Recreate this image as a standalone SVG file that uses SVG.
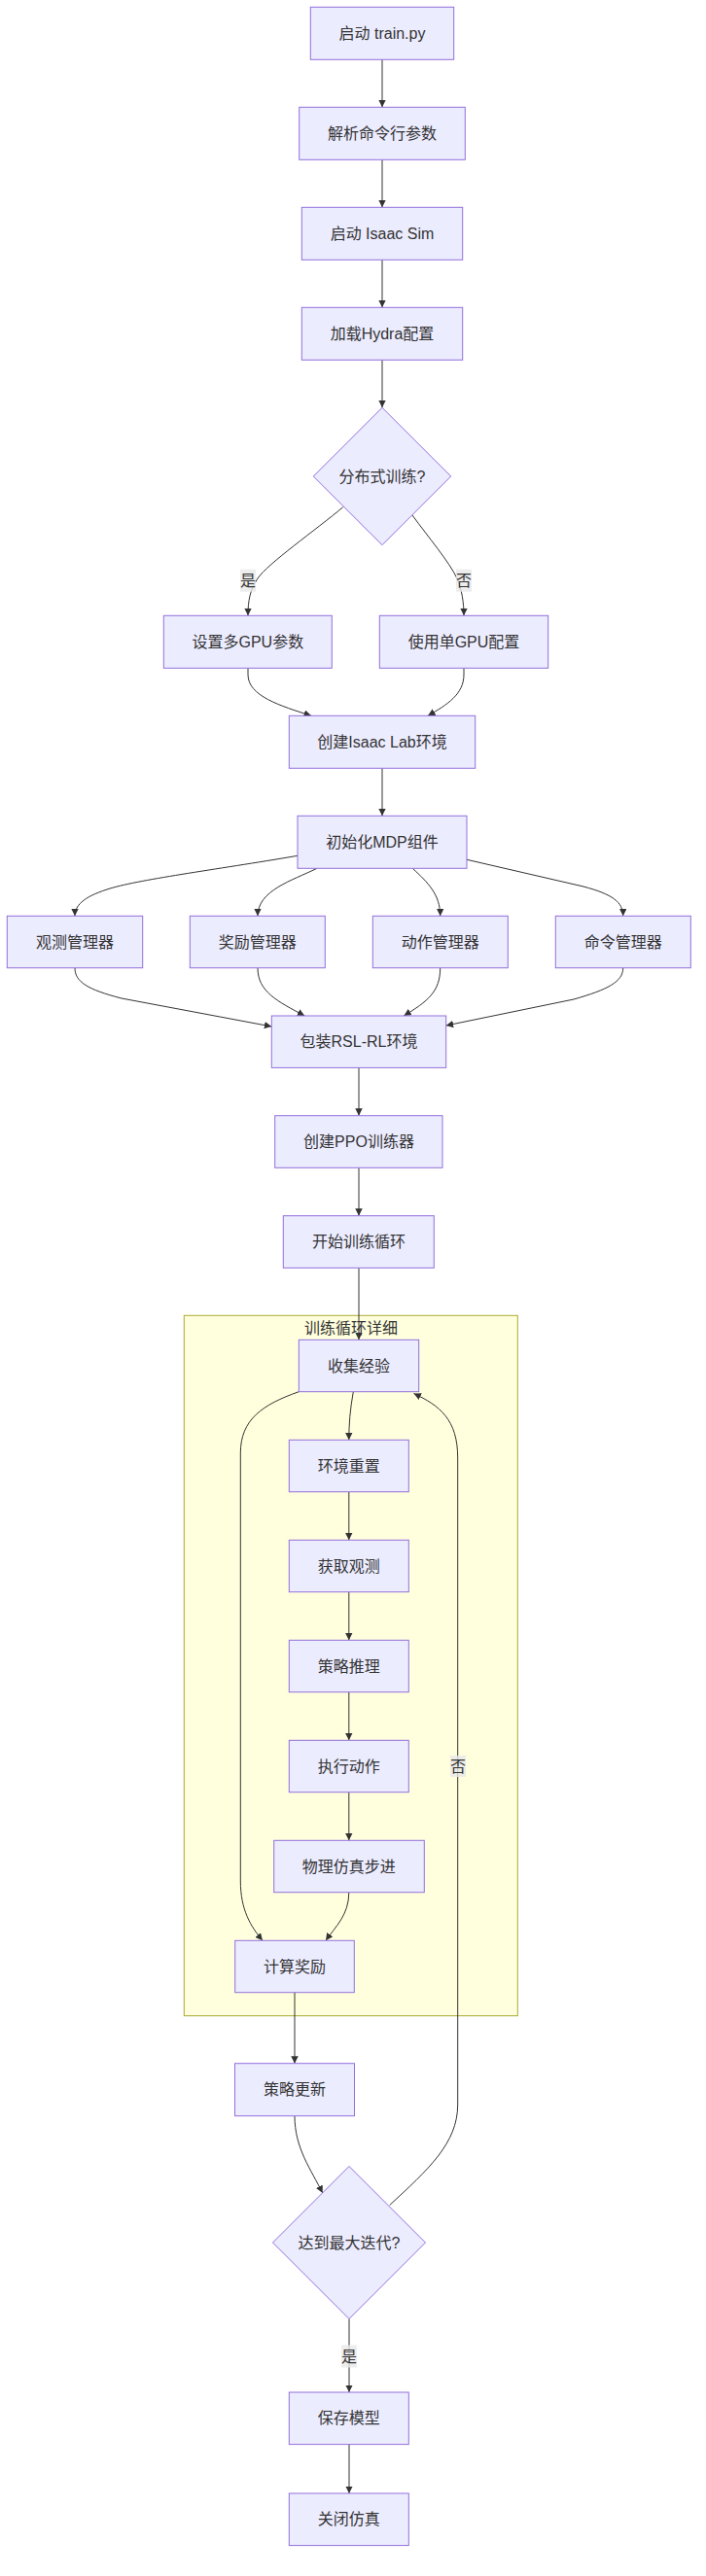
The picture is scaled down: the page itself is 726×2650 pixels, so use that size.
<svg xmlns="http://www.w3.org/2000/svg" width="726" height="2650" viewBox="0 0 726 2650">
<defs>
<style>
.node rect, .node polygon { fill: #ECECFF; stroke: #9370DB; stroke-width: 1; }
.lbl { font-family: "Liberation Sans", "Noto Sans CJK SC", sans-serif; font-size: 16px; fill: #333; text-anchor: middle; dominant-baseline: central; }
.edges path { fill: none; stroke: #333; stroke-width: 1; marker-end: url(#arr); }
.elbl rect { fill: #e8e8e8; opacity: 0.8; }
.cluster rect { fill: #ffffde; stroke: #aaaa33; stroke-width: 1; }
</style>
<marker id="arr" viewBox="0 0 10 10" refX="10" refY="5" markerWidth="7.5" markerHeight="7.5" markerUnits="userSpaceOnUse" orient="auto">
<path d="M0,0 L10,5 L0,10 z" fill="#333"/>
</marker>
</defs>
<rect width="726" height="2650" fill="#ffffff"/>

<g id="cluster-loop" class="cluster">
<rect x="189.3" y="1353.3" width="343" height="720.4"/>
<text class="lbl" x="361" y="1366">训练循环详细</text>
</g>

<g id="edges" class="edges">
<path d="M393,61.3 L393,110.3"/>
<path d="M393,164.3 L393,213.3"/>
<path d="M393,267.3 L393,316.3"/>
<path d="M393,370.3 L393,419.3"/>
<path d="M352.7,521.7 C325,545 275,580 265,595 C257,607 255,618 255,633.3"/>
<path d="M424,530 C440,552 462,578 470,595 C475,607 477,620 477,633.3"/>
<path d="M255,687.3 L255,694 C255,716 288,726 320,736.3"/>
<path d="M477,687.3 L477,694 C477,714 460,725 440,736.3"/>
<path d="M393,790.3 L393,839.3"/>
<path d="M306,880.3 C220,895 140,905 110,915 C85,923 77,932 77,942.3"/>
<path d="M326,893.3 C300,906 265,916 265,942.3"/>
<path d="M424.3,893.3 C440,908 452.7,920 452.7,942.3"/>
<path d="M480,884.3 L600,912 C630,920 640.7,928 640.7,942.3"/>
<path d="M77,995.7 C77,1010 90,1018 125,1027 L279.3,1056"/>
<path d="M265,995.7 C265,1020 285,1030 313.3,1045"/>
<path d="M452.7,995.7 C452.7,1020 440,1030 415.3,1045"/>
<path d="M640.7,995.7 C640.7,1010 625,1018 590,1028 L458.7,1055"/>
<path d="M369,1098.4 L369,1147.7"/>
<path d="M369,1201.3 L369,1250.7"/>
<path d="M369,1304.3 L369,1378.3"/>
<path d="M363.3,1431.7 C360,1450 358.8,1465 358.8,1481.3"/>
<path d="M358.8,1534.7 L358.8,1584.3"/>
<path d="M358.8,1637.7 L358.8,1687.3"/>
<path d="M358.8,1740.7 L358.8,1790.3"/>
<path d="M358.8,1843.7 L358.8,1893.3"/>
<path d="M358.8,1946.7 C358.8,1970 345,1982 335,1996.3"/>
<path d="M307.3,1431.7 C270,1445 247.3,1460 247.3,1495 L247.3,1935 C247.3,1965 258,1982 270,1996.3"/>
<path d="M303,2049.7 L303,2122.7"/>
<path d="M303,2176.7 C303,2210 320,2232 331.7,2256"/>
<path d="M400.7,2268.5 C440,2232 470.7,2205 470.7,2165 L470.7,1500 C470.7,1460 452,1446 425.5,1433.5"/>
<path d="M359,2385.5 L359,2461"/>
<path d="M359,2514.6 L359,2565"/>
</g>

<g id="edge-labels" class="elbl">
<rect x="247" y="585.7" width="16" height="23"/>
<text class="lbl" x="255" y="597">是</text>
<rect x="469" y="585.7" width="16" height="23"/>
<text class="lbl" x="477" y="597">否</text>
<rect x="463" y="1806" width="16" height="22"/>
<text class="lbl" x="471" y="1817">否</text>
<rect x="351" y="2412.5" width="16" height="23"/>
<text class="lbl" x="359" y="2424">是</text>
</g>

<g id="n-start" class="node"><rect x="319.3" y="7.3" width="147.4" height="54"/><text class="lbl" x="393" y="34.3">启动 train.py</text></g>
<g id="n-parse" class="node"><rect x="307.7" y="110.3" width="170.6" height="54"/><text class="lbl" x="393" y="137.3">解析命令行参数</text></g>
<g id="n-sim" class="node"><rect x="310.3" y="213.3" width="165.4" height="54"/><text class="lbl" x="393" y="240.3">启动 Isaac Sim</text></g>
<g id="n-hydra" class="node"><rect x="310.3" y="316.3" width="165.4" height="54"/><text class="lbl" x="393" y="343.3">加载Hydra配置</text></g>
<g id="n-dist" class="node"><polygon points="393,419.3 463.7,490 393,560.7 322.3,490"/><text class="lbl" x="393" y="490">分布式训练?</text></g>
<g id="n-multi" class="node"><rect x="168.3" y="633.3" width="173" height="54"/><text class="lbl" x="254.8" y="660.3">设置多GPU参数</text></g>
<g id="n-single" class="node"><rect x="390.3" y="633.3" width="173.4" height="54"/><text class="lbl" x="477" y="660.3">使用单GPU配置</text></g>
<g id="n-env" class="node"><rect x="297.3" y="736.3" width="191.4" height="54"/><text class="lbl" x="393" y="763.3">创建Isaac Lab环境</text></g>
<g id="n-mdp" class="node"><rect x="306" y="839.3" width="174" height="54"/><text class="lbl" x="393" y="866.3">初始化MDP组件</text></g>
<g id="n-obs" class="node"><rect x="7.3" y="942.3" width="139.4" height="53.4"/><text class="lbl" x="77" y="969">观测管理器</text></g>
<g id="n-rew" class="node"><rect x="195.3" y="942.3" width="139" height="53.4"/><text class="lbl" x="264.8" y="969">奖励管理器</text></g>
<g id="n-act" class="node"><rect x="383.3" y="942.3" width="139" height="53.4"/><text class="lbl" x="452.8" y="969">动作管理器</text></g>
<g id="n-cmd" class="node"><rect x="571.3" y="942.3" width="139" height="53.4"/><text class="lbl" x="640.8" y="969">命令管理器</text></g>
<g id="n-wrap" class="node"><rect x="279.3" y="1045" width="179.4" height="53.4"/><text class="lbl" x="369" y="1071.7">包装RSL-RL环境</text></g>
<g id="n-ppo" class="node"><rect x="282.7" y="1147.7" width="172.3" height="53.6"/><text class="lbl" x="369" y="1174.5">创建PPO训练器</text></g>
<g id="n-loop" class="node"><rect x="291.3" y="1250.7" width="155" height="53.6"/><text class="lbl" x="369" y="1277.5">开始训练循环</text></g>
<g id="n-collect" class="node"><rect x="307.3" y="1378.3" width="123.4" height="53.4"/><text class="lbl" x="369" y="1405">收集经验</text></g>
<g id="n-reset" class="node"><rect x="297.3" y="1481.3" width="123" height="53.4"/><text class="lbl" x="358.8" y="1508">环境重置</text></g>
<g id="n-getobs" class="node"><rect x="297.3" y="1584.3" width="123" height="53.4"/><text class="lbl" x="358.8" y="1611">获取观测</text></g>
<g id="n-infer" class="node"><rect x="297.3" y="1687.3" width="123" height="53.4"/><text class="lbl" x="358.8" y="1714">策略推理</text></g>
<g id="n-exec" class="node"><rect x="297.3" y="1790.3" width="123" height="53.4"/><text class="lbl" x="358.8" y="1817">执行动作</text></g>
<g id="n-phys" class="node"><rect x="281.7" y="1893.3" width="154.6" height="53.4"/><text class="lbl" x="358.8" y="1920">物理仿真步进</text></g>
<g id="n-reward" class="node"><rect x="241.7" y="1996.3" width="122.6" height="53.4"/><text class="lbl" x="303" y="2023">计算奖励</text></g>
<g id="n-update" class="node"><rect x="241.5" y="2122.7" width="123" height="54"/><text class="lbl" x="303" y="2149.7">策略更新</text></g>
<g id="n-max" class="node"><polygon points="359,2228.5 437.5,2307 359,2385.5 280.5,2307"/><text class="lbl" x="359" y="2307">达到最大迭代?</text></g>
<g id="n-save" class="node"><rect x="297.3" y="2461" width="123" height="53.6"/><text class="lbl" x="358.8" y="2487.8">保存模型</text></g>
<g id="n-close" class="node"><rect x="297.3" y="2565" width="123" height="53.6"/><text class="lbl" x="358.8" y="2591.8">关闭仿真</text></g>
</svg>
